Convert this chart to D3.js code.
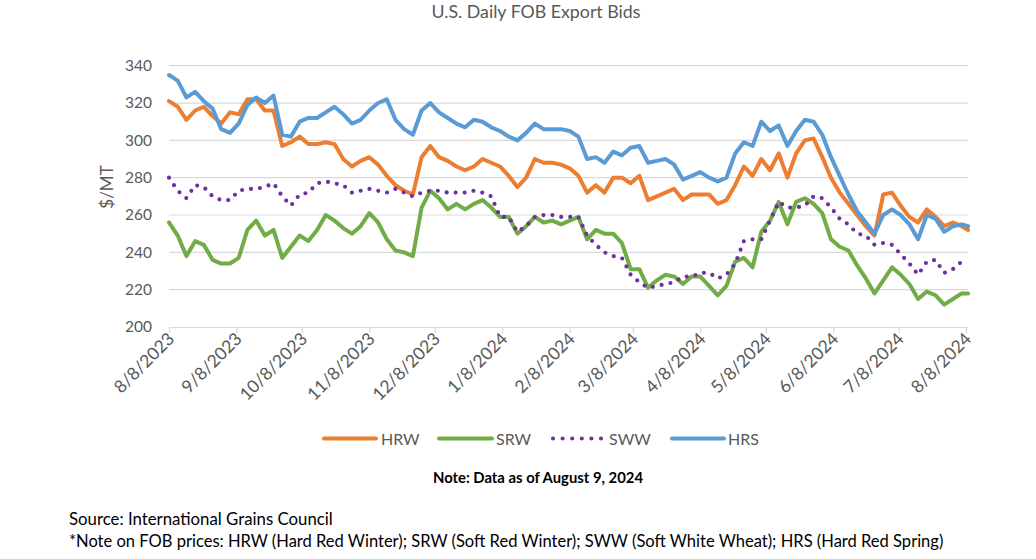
<!DOCTYPE html>
<html>
<head>
<meta charset="utf-8">
<script src="https://cdn.jsdelivr.net/npm/d3@7"></script>
<style>
  html, body { margin: 0; padding: 0; background: #fff; }
  svg { display: block; }
  text { font-family: Lato, "Open Sans", sans-serif; }
</style>
</head>
<body>
<svg id="chart" width="1036" height="559"></svg>
<script>
// ---------- DATA ----------
const dates = [
"2023-08-08","2023-08-12","2023-08-16","2023-08-20","2023-08-24","2023-08-28","2023-09-01","2023-09-05",
"2023-09-09","2023-09-13","2023-09-17","2023-09-21","2023-09-25","2023-09-29","2023-10-03","2023-10-07",
"2023-10-11","2023-10-15","2023-10-19","2023-10-23","2023-10-27","2023-10-31","2023-11-04","2023-11-08",
"2023-11-12","2023-11-16","2023-11-20","2023-11-24","2023-11-28","2023-12-02","2023-12-06","2023-12-10",
"2023-12-14","2023-12-18","2023-12-22","2023-12-26","2023-12-30","2024-01-03","2024-01-07","2024-01-11",
"2024-01-15","2024-01-19","2024-01-23","2024-01-27","2024-01-31","2024-02-04","2024-02-08","2024-02-12",
"2024-02-16","2024-02-20","2024-02-24","2024-02-28","2024-03-03","2024-03-07","2024-03-11","2024-03-15",
"2024-03-19","2024-03-23","2024-03-27","2024-03-31","2024-04-04","2024-04-08","2024-04-12","2024-04-16",
"2024-04-20","2024-04-24","2024-04-28","2024-05-02","2024-05-06","2024-05-10","2024-05-14","2024-05-18",
"2024-05-22","2024-05-26","2024-05-30","2024-06-03","2024-06-07","2024-06-11","2024-06-15","2024-06-19",
"2024-06-23","2024-06-27","2024-07-01","2024-07-05","2024-07-09","2024-07-13","2024-07-17","2024-07-21",
"2024-07-25","2024-07-29","2024-08-02","2024-08-06","2024-08-09"
];

const hrw = [
321,318,311,316,318,313,309,315,314,322,322,316,316,297,299,302,
298,298,299,298,290,286,289,291,287,281,276,273,271,291,297,291,
289,286,284,286,290,288,286,281,275,280,290,288,288,287,285,281,
272,276,272,280,280,277,281,268,270,272,274,268,271,271,271,266,
268,276,286,281,290,284,293,280,293,300,301,291,280,272,266,260,
254,249,271,272,265,259,256,263,259,254,256,254,252
];

const srw = [
256,249,238,246,244,236,234,234,237,252,257,249,252,237,243,249,
246,252,260,257,253,250,254,261,256,247,241,240,238,264,273,269,
263,266,263,266,268,264,259,259,250,254,259,256,257,255,257,259,
247,252,250,250,245,231,231,221,225,228,227,223,227,227,222,217,
222,235,237,232,251,257,267,255,267,269,266,261,247,243,241,233,
226,218,225,232,228,223,215,219,217,212,215,218,218
];

const sww = [
280,273,269,276,275,270,268,268,273,274,274,275,277,270,265,271,
272,277,278,277,276,272,273,274,273,272,274,272,270,272,273,273,
272,272,272,273,272,270,259,259,251,254,259,260,260,259,259,259,
249,244,240,238,237,228,224,221,222,223,224,227,227,229,229,226,
228,234,246,247,247,257,267,264,264,265,270,269,264,258,255,250,
249,244,245,244,239,234,228,235,236,229,231,235,235
];

const hrs = [
335,332,323,326,321,317,306,304,309,319,323,320,324,303,302,310,
312,312,315,318,314,309,311,316,320,322,311,306,303,316,320,315,
312,309,307,311,310,307,305,302,300,304,309,306,306,306,305,302,
290,291,288,294,292,296,297,288,289,290,287,279,281,283,280,278,
280,293,299,297,310,305,308,297,305,311,310,303,291,281,271,262,
256,250,260,263,260,255,247,260,258,251,254,255,254
];

const seriesNames = ["HRW", "SRW", "SWW", "HRS"];
const seriesColors = ["#ED7D31", "#70AD47", "#7030A0", "#5B9BD5"];
const yTicks = [200, 220, 240, 260, 280, 300, 320, 340];
const xTickLabels = ["8/8/2023","9/8/2023","10/8/2023","11/8/2023","12/8/2023","1/8/2024",
  "2/8/2024","3/8/2024","4/8/2024","5/8/2024","6/8/2024","7/8/2024","8/8/2024"];

const titleText = "U.S. Daily FOB Export Bids";
const yAxisTitle = "$/MT";
const noteText = "Note: Data as of August 9, 2024";
const sourceText = "Source: International Grains Council";
const footText = "*Note on FOB prices: HRW (Hard Red Winter); SRW (Soft Red Winter); SWW (Soft White Wheat); HRS (Hard Red Spring)";

// ---------- CHART ----------
const svg = d3.select("#chart");
const parseISO = d3.timeParse("%Y-%m-%d");
const parseTick = d3.timeParse("%m/%d/%Y");
const dateObjs = dates.map(parseISO);
const tickDates = xTickLabels.map(parseTick);

const x = d3.scaleTime()
  .domain([tickDates[0], tickDates[tickDates.length - 1]])
  .range([169, 966]);
const y = d3.scaleLinear().domain([200, 340]).range([327, 65.7]);

const gridColor = "#d9d9d9";
const textColor = "#595959";

// gridlines
svg.append("g")
  .selectAll("line")
  .data(yTicks.filter(v => v !== 200))
  .join("line")
  .attr("x1", 169).attr("x2", 968)
  .attr("y1", d => y(d)).attr("y2", d => y(d))
  .attr("stroke", gridColor).attr("stroke-width", 1.2);

// y axis labels
const yAxis = svg.append("g")
  .attr("transform", "translate(152,0)")
  .call(d3.axisLeft(y).tickValues(yTicks).tickSize(0).tickPadding(0));
yAxis.select(".domain").remove();
yAxis.selectAll("text")
  .attr("fill", textColor)
  .style("font-size", "15.5px")
  .style("font-family", "Lato, sans-serif");

// x axis
const xAxis = svg.append("g")
  .attr("transform", `translate(0,${y(200)})`)
  .call(d3.axisBottom(x).tickValues(tickDates)
    .tickFormat((d, i) => xTickLabels[i]).tickSize(6).tickSizeOuter(0));
xAxis.select(".domain").attr("stroke", gridColor).attr("stroke-width", 1.2)
  .attr("d", "M169,0.5H968");
xAxis.selectAll(".tick line").attr("stroke", gridColor).attr("stroke-width", 1.2);
xAxis.selectAll(".tick text")
  .attr("fill", textColor)
  .style("font-size", "17.5px")
  .style("font-family", "Lato, sans-serif")
  .attr("text-anchor", "end")
  .attr("dy", null)
  .attr("y", 0)
  .attr("transform", "translate(6,13) rotate(-45)");

// lines
const allSeries = [hrw, srw, sww, hrs];
const line = d3.line()
  .x((d, i) => x(dateObjs[i]))
  .y(d => y(d));

allSeries.forEach((vals, si) => {
  const p = svg.append("path")
    .datum(vals)
    .attr("d", line)
    .attr("fill", "none")
    .attr("stroke", seriesColors[si])
    .attr("stroke-width", 4)
    .attr("stroke-linejoin", "round")
    .attr("stroke-linecap", "round");
  if (seriesNames[si] === "SWW") {
    p.attr("stroke-dasharray", "0 9").attr("stroke-width", 4.2);
  }
});

// y title
svg.append("text")
  .attr("transform", "translate(113,187) rotate(-90)")
  .attr("text-anchor", "middle")
  .attr("fill", textColor)
  .style("font-size", "17px")
  .text(yAxisTitle);

// title
function fit(sel, w) {
  const cur = sel.node().getComputedTextLength();
  const fs = parseFloat(sel.style("font-size"));
  sel.style("font-size", (fs * w / cur).toFixed(2) + "px");
}
const t = svg.append("text")
  .attr("x", 536).attr("y", 18)
  .attr("text-anchor", "middle")
  .attr("fill", textColor)
  .style("font-size", "16px")
  .text(titleText);
fit(t, 209);

// legend
const legendItems = [
  {name: seriesNames[0], color: seriesColors[0], x1: 324, x2: 376, tx: 381},
  {name: seriesNames[1], color: seriesColors[1], x1: 439, x2: 492, tx: 496},
  {name: seriesNames[2], color: seriesColors[2], x1: 553, x2: 603, tx: 609},
  {name: seriesNames[3], color: seriesColors[3], x1: 672, x2: 724, tx: 728}
];
const lg = svg.append("g");
legendItems.forEach(it => {
  const l = lg.append("line")
    .attr("x1", it.x1).attr("x2", it.x2)
    .attr("y1", 438.5).attr("y2", 438.5)
    .attr("stroke", it.color).attr("stroke-width", 4)
    .attr("stroke-linecap", "round");
  if (it.name === "SWW") l.attr("stroke-dasharray", "0 9.6").attr("stroke-width", 4.2);
  lg.append("text")
    .attr("x", it.tx).attr("y", 444.5)
    .attr("fill", textColor)
    .style("font-size", "16px")
    .text(it.name);
});

// note
const n = svg.append("text")
  .attr("x", 538).attr("y", 483)
  .attr("text-anchor", "middle")
  .attr("fill", "#000")
  .style("font-size", "13px")
  .style("font-weight", "bold")
  .text(noteText);
fit(n, 210);

const s1 = svg.append("text")
  .attr("x", 69).attr("y", 525)
  .attr("fill", "#000")
  .style("font-size", "15px")
  .text(sourceText);
fit(s1, 264);

const s2 = svg.append("text")
  .attr("x", 69).attr("y", 547)
  .attr("fill", "#000")
  .style("font-size", "15px")
  .text(footText);
fit(s2, 875);
</script>
</body>
</html>
